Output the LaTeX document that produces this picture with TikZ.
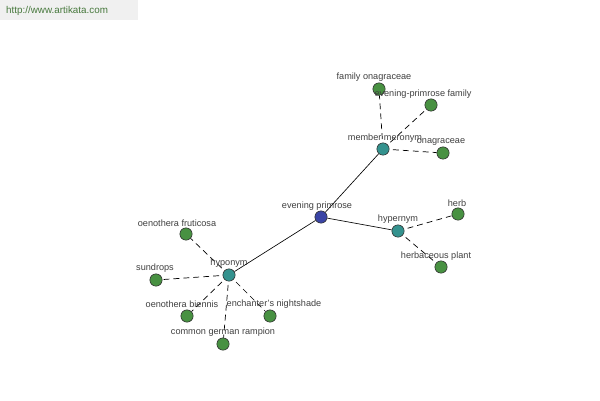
\documentclass[tikz,border=0pt]{standalone}
\usepackage{fontspec}
\setmainfont{Liberation Sans}
\usetikzlibrary{backgrounds}
\definecolor{leafgreen}{RGB}{72,145,66}
\definecolor{relteal}{RGB}{52,146,142}
\definecolor{rootblue}{RGB}{58,68,165}
\definecolor{labelgray}{RGB}{64,64,64}
\definecolor{urlgreen}{RGB}{70,120,60}
\tikzset{
  wnode/.style={circle,draw=black!80,line width=0.5pt,inner sep=0pt,minimum size=10.5pt},
  leaf/.style={wnode,fill=leafgreen},
  relation/.style={wnode,fill=relteal},
  root/.style={wnode,fill=rootblue},
  wlabel/.style={text=labelgray,font=\fontsize{7.8}{8}\selectfont,inner sep=0pt},
  solidlink/.style={line width=0.55pt},
  dashlink/.style={line width=0.6pt,dash pattern=on 5pt off 3.5pt}
}
\begin{document}
\begin{tikzpicture}[x=0.03cm,y=-0.03cm,line cap=butt,line join=round]
  \useasboundingbox (0,0) rectangle (600,400);
  \node[text=urlgreen,font=\fontsize{8.4}{9}\selectfont,anchor=west,inner sep=0pt] (url) at (6,11) {http://www.artikata.com};
  % nodes
  \node[root] (ep) at (321,217) {};
  \node[relation] (mm) at (383,149) {};
  \node[relation] (hyper) at (398,231) {};
  \node[relation] (hypo) at (229,275) {};
  \node[leaf] (fo) at (379,89) {};
  \node[leaf] (epf) at (431,105) {};
  \node[leaf] (ona) at (443,153) {};
  \node[leaf] (herb) at (458,214) {};
  \node[leaf] (hp) at (441,267) {};
  \node[leaf] (of) at (186,234) {};
  \node[leaf] (sd) at (156,280) {};
  \node[leaf] (ob) at (187,316) {};
  \node[leaf] (en) at (270,316) {};
  \node[leaf] (cgr) at (223,344) {};
  % links, behind the discs
  \begin{pgfonlayer}{background}
    \fill[white] (0,0) rectangle (600,400);
    \fill[black!6] (0,0) rectangle (138,20);
    \draw[solidlink] (ep) -- (mm);
    \draw[solidlink] (ep) -- (hyper);
    \draw[solidlink] (ep) -- (hypo);
    \foreach \t in {fo,epf,ona}
      \draw[dashlink] (mm.center) -- (\t);
    \foreach \t in {herb,hp}
      \draw[dashlink] (hyper.center) -- (\t);
    \foreach \t in {of,sd,ob,en,cgr}
      \draw[dashlink] (hypo.center) -- (\t);
  \end{pgfonlayer}
  % labels
  \node[wlabel] (ep-l) at (317,206) {evening primrose};
  \node[wlabel] (mm-l) at (385,138) {member meronym};
  \node[wlabel] (hyper-l) at (398,219) {hypernym};
  \node[wlabel] (hypo-l) at (229,263) {hyponym};
  \node[wlabel] (fo-l) at (374,77) {family onagraceae};
  \node[wlabel] (epf-l) at (423,94) {evening-primrose family};
  \node[wlabel] (ona-l) at (441,142) {onagraceae};
  \node[wlabel] (herb-l) at (457,203) {herb};
  \node[wlabel] (hp-l) at (436,256) {herbaceous plant};
  \node[wlabel] (of-l) at (177,223) {oenothera fruticosa};
  \node[wlabel] (sd-l) at (155,268) {sundrops};
  \node[wlabel] (ob-l) at (182,304) {oenothera biennis};
  \node[wlabel] (en-l) at (274,304) {enchanter's nightshade};
  \node[wlabel] (cgr-l) at (223,332) {common german rampion};
\end{tikzpicture}
\end{document}
